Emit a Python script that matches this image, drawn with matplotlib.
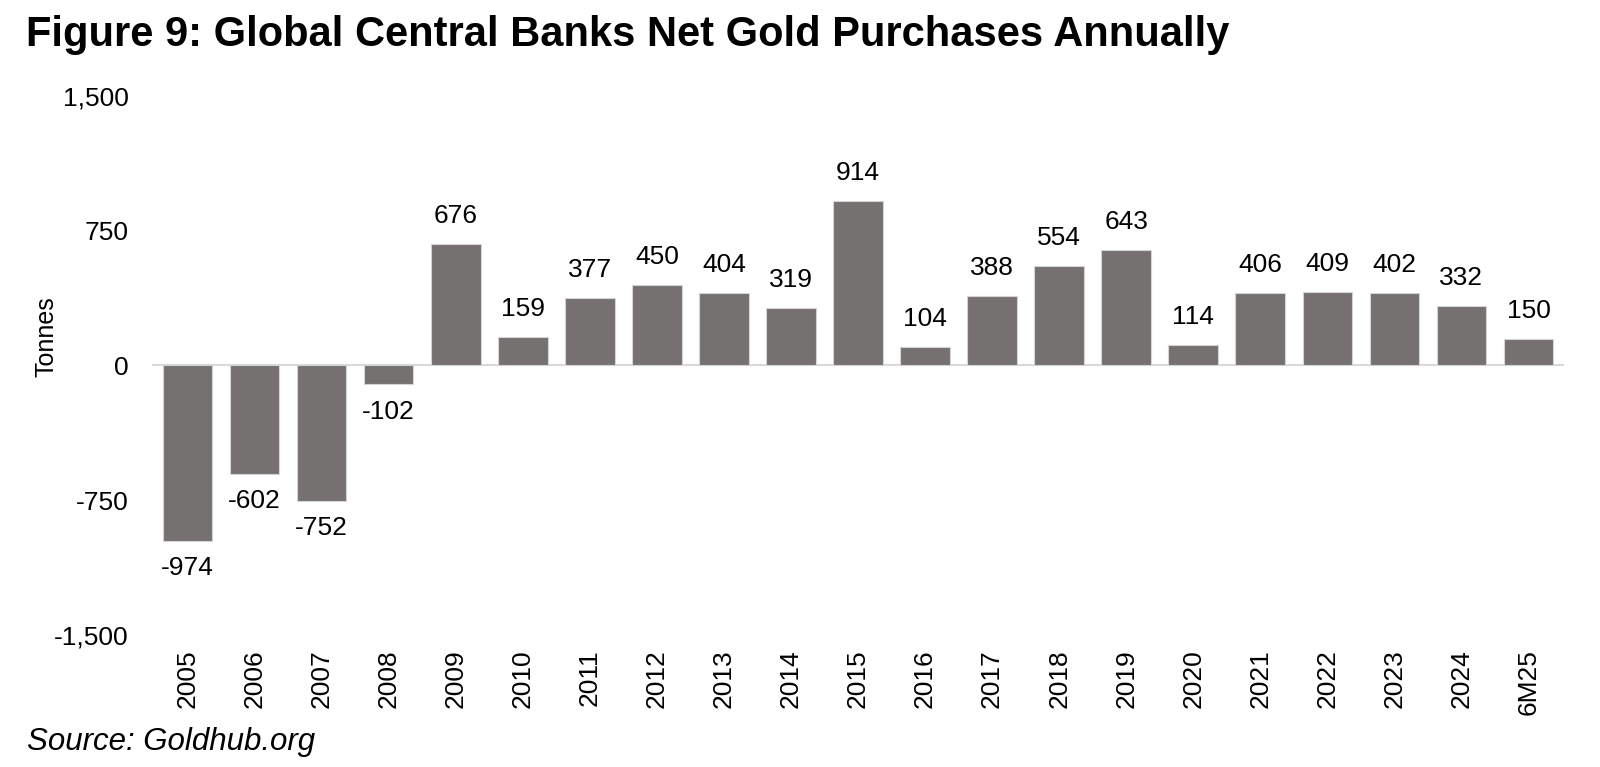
import matplotlib.pyplot as plt
import numpy as np

plt.rcParams['font.family'] = ['Liberation Sans', 'DejaVu Sans']

years = ['2005', '2006', '2007', '2008', '2009', '2010', '2011', '2012', '2013', '2014',
         '2015', '2016', '2017', '2018', '2019', '2020', '2021', '2022', '2023', '2024', '6M25']
tonnes = [-974, -602, -752, -102, 676, 159, 377, 450, 404, 319,
          914, 104, 388, 554, 643, 114, 406, 409, 402, 332, 150]
y_ticks = [-1500, -750, 0, 750, 1500]

bar_col = '#767171'

fig = plt.figure(figsize=(16, 7.67), dpi=100)
ax = fig.add_axes([0.095, 0.172, 0.8825, 0.703])

x = np.arange(len(years))
ax.bar(x, tonnes, width=0.74, color=bar_col, edgecolor='#d4d4d4', linewidth=0.8, zorder=2)
ax.axhline(0, color='#d9d9d9', linewidth=1.5, zorder=1)

# etykiety wartości nad / pod słupkami
for xi, v in zip(x, tonnes):
    off = 20 if v >= 0 else -20
    ax.annotate(f'{v}', (xi, v), xytext=(0, off), textcoords='offset points',
                ha='center', va='center', fontsize=19)

ax.set_xlim(-0.53, len(years) - 0.47)
ax.set_ylim(-1500, 1500)
ax.set_yticks(y_ticks)
ax.set_yticklabels([f'{t:,}' for t in y_ticks])
ax.set_xticks(x)
ax.set_xticklabels(years, rotation=90)
ax.tick_params(axis='both', length=0, labelsize=19)
ax.tick_params(axis='y', pad=17)
ax.tick_params(axis='x', pad=10)
for s in ax.spines.values():
    s.set_visible(False)

ax.set_ylabel('Tonnes', fontsize=18)
ax.yaxis.set_label_coords(-0.066, 0.553)

fig.text(0.016, 0.940, 'Figure 9: Global Central Banks Net Gold Purchases Annually',
         fontsize=30, fontweight='bold', ha='left', va='baseline')
fig.text(0.017, 0.022, 'Source: Goldhub.org', fontsize=22.5, style='italic',
         ha='left', va='baseline')

fig.savefig('out.png', dpi=100)
